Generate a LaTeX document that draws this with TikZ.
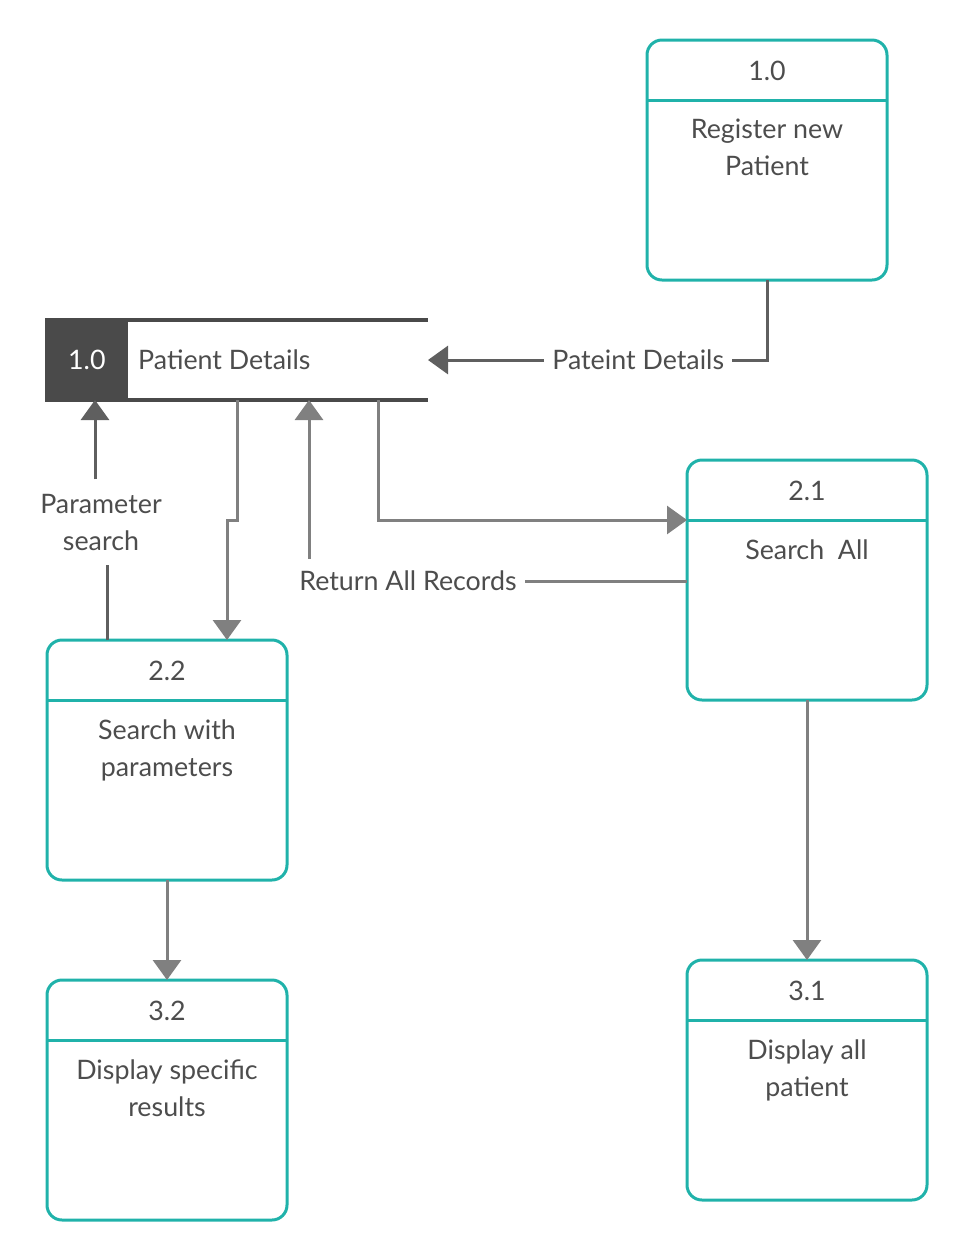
\documentclass[tikz,border=0pt]{standalone}
\usepackage{fontspec}
\setmainfont{Lato}
\usepackage{tikz}
\usetikzlibrary{arrows.meta,positioning}

\definecolor{procteal}{HTML}{20B2AA}
\definecolor{txtgray}{HTML}{4D4D4D}
\definecolor{flowgray}{HTML}{808080}
\definecolor{darkflowgray}{HTML}{5F5F5F}
\definecolor{storegray}{HTML}{4A4A4A}

% process box: name, centre, number, text
\newcommand{\procbox}[4]{%
  \node[proc] (#1) at (#2) {};
  \draw[procteal, line width=1.5pt] ([yshift=-30pt]#1.north west) -- ([yshift=-30pt]#1.north east);
  \node[lbl] (#1-id) at ([yshift=-15.5pt]#1.north) {#3};
  \node[lbl, anchor=north, align=center] (#1-txt) at ([yshift=-39.5pt]#1.north) {#4};
}

\begin{document}
\begin{tikzpicture}[x=0.5pt, y=-0.5pt, >={Triangle[width=14pt,length=10pt]},
    proc/.style={draw=procteal, line width=1.5pt, rounded corners=7.5pt,
                 minimum width=120pt, minimum height=120pt, inner sep=0pt, outer sep=0pt},
    lbl/.style={font=\fontsize{13.4}{18.5}\selectfont, text=txtgray, inner sep=0pt},
    flow/.style={draw=flowgray, line width=1.5pt},
    darkflow/.style={draw=darkflowgray, line width=1.5pt},
    flowlabel/.style={lbl, fill=white, inner sep=4pt, align=center}]

  \useasboundingbox (0,0) rectangle (967,1260);

  \procbox{p10}{767,160}{1.0}{Register new\\Patient}
  \procbox{p21}{807,580}{2.1}{Search\ \ All}
  \procbox{p22}{167,760}{2.2}{Search with\\parameters}
  \procbox{p32}{167,1100}{3.2}{Display specific\\results}
  \procbox{p31}{807,1080}{3.1}{Display all\\patient}

  % data store
  \node[minimum width=191.5pt, minimum height=40pt, inner sep=0pt, outer sep=0pt] (ds) at (236.5,360) {};
  \draw[storegray, line width=2pt] (ds.north west) -- (ds.north east)
                                   (ds.south west) -- (ds.south east);
  \node[fill=storegray, minimum width=41.5pt, minimum height=40pt, inner sep=0pt,
        anchor=west, text=white, font=\fontsize{13.4}{18.5}\selectfont] (dsid) at (ds.west) {1.0};
  \node[lbl, anchor=west] (dsname) at ([xshift=4.5pt]dsid.east) {Patient Details};

  \coordinate (ds-a) at ([xshift=25pt]ds.south west);
  \coordinate (ds-b) at ([xshift=96pt]ds.south west);
  \coordinate (ds-c) at ([xshift=132pt]ds.south west);
  \coordinate (ds-d) at ([xshift=166.5pt]ds.south west);
  \coordinate (p22-a) at ([xshift=-30pt]p22.north);

  \node[flowlabel, inner ysep=6pt] (rar) at (408,581) {Return All Records};
  \node[flowlabel, inner ysep=7pt] (ps) at (101,522) {Parameter\\search};

  \draw[darkflow,->] (p10.south) |- node[flowlabel, pos=0.69] {Pateint Details} (ds.east);
  \draw[flow,->] (ds-b) -- ++(0,120) -- ++(-10,0) -- ([xshift=30pt]p22.north);
  \draw[flow,->] (ds-d) |- ([yshift=-30pt]p21.north west);
  \draw[flow] (p21.west |- rar) -- (rar.east);
  \draw[flow,->] (rar.north -| ds-c) -- (ds-c);
  \draw[darkflow] (p22-a) -- (p22-a |- ps.south);
  \draw[darkflow,->] (ps.north -| ds-a) -- (ds-a);
  \draw[flow,->] (p22.south) -- (p32.north);
  \draw[flow,->] (p21.south) -- (p31.north);

\end{tikzpicture}
\end{document}
